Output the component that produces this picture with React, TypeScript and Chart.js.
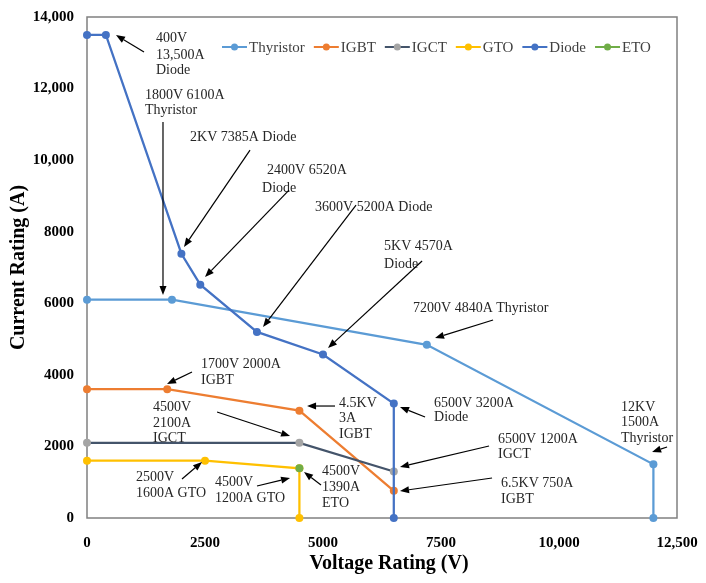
import React, { useEffect, useRef } from "react";
import { Chart, registerables } from "chart.js";

Chart.register(...registerables);

// ---- Data ----
const seriesNames = ["Thyristor", "IGBT", "IGCT", "GTO", "Diode", "ETO"];
const seriesLineColors = ["#5B9BD5", "#ED7D31", "#44546A", "#FFC000", "#4472C4", "#70AD47"];
const seriesPointColors = ["#5B9BD5", "#ED7D31", "#A5A5A5", "#FFC000", "#4472C4", "#70AD47"];

const thyristorV = [0, 1800, 7200, 12000, 12000];
const thyristorA = [6100, 6100, 4840, 1500, 0];
const igbtV = [0, 1700, 4500, 6500];
const igbtA = [3600, 3600, 3000, 760];
const igctV = [0, 4500, 6500];
const igctA = [2100, 2100, 1300];
const gtoV = [0, 2500, 4500, 4500];
const gtoA = [1600, 1600, 1390, 0];
const diodeV = [0, 400, 2000, 2400, 3600, 5000, 6500, 6500];
const diodeA = [13500, 13500, 7385, 6520, 5200, 4570, 3200, 0];
const etoV = [4500];
const etoA = [1390];

const seriesV = [thyristorV, igbtV, igctV, gtoV, diodeV, etoV];
const seriesA = [thyristorA, igbtA, igctA, gtoA, diodeA, etoA];

const xTicks = [0, 2500, 5000, 7500, 10000, 12500];
const yTicks = [0, 2000, 4000, 6000, 8000, 10000, 12000, 14000];

// Annotation texts: [text, voltage (left edge), current (line middle)]
const noteTexts: [string, number, number][] = [
  ["400V", 1462, 13411],
  ["13,500A", 1462, 12935],
  ["Diode", 1462, 12500],
  ["1800V 6100A", 1229, 11818],
  ["Thyristor", 1229, 11380],
  ["2KV 7385A Diode", 2183, 10645],
  ["2400V 6520A", 3814, 9723],
  ["Diode", 3708, 9220],
  ["3600V 5200A Diode", 4831, 8689],
  ["5KV 4570A", 6293, 7600],
  ["Diode", 6293, 7097],
  ["7200V 4840A Thyristor", 6908, 5867],
  ["1700V 2000A", 2416, 4303],
  ["IGBT", 2416, 3856],
  ["4.5KV", 5340, 3213],
  ["3A", 5340, 2794],
  ["IGBT", 5340, 2347],
  ["4500V", 1399, 3101],
  ["2100A", 1399, 2654],
  ["IGCT", 1399, 2235],
  ["2500V", 1038, 1146],
  ["1600A GTO", 1038, 699],
  ["4500V", 2712, 1006],
  ["1200A GTO", 2712, 559],
  ["4500V", 4980, 1313],
  ["1390A", 4980, 866],
  ["ETO", 4980, 419],
  ["6500V 3200A", 7353, 3213],
  ["Diode", 7353, 2822],
  ["6500V 1200A", 8709, 2207],
  ["IGCT", 8709, 1788],
  ["6.5KV 750A", 8773, 978],
  ["IGBT", 8773, 531],
  ["12KV", 11315, 3101],
  ["1500A", 11315, 2682],
  ["Thyristor", 11315, 2235],
];

// Arrows: [fromV, fromA, toV, toA] (head at "to")
const noteArrows: [number, number, number, number][] = [
  [1208, 13020, 614, 13495],
  [1610, 11064, 1610, 6231],
  [3454, 10282, 2055, 7572],
  [4280, 9164, 2500, 6734],
  [5700, 8745, 3729, 5337],
  [7099, 7181, 5107, 4750],
  [8603, 5532, 7374, 5029],
  [2225, 4079, 1695, 3744],
  [5255, 3129, 4662, 3129],
  [2755, 2962, 4302, 2291],
  [2013, 1090, 2437, 1565],
  [3602, 894, 4302, 1118],
  [4958, 922, 4598, 1285],
  [7162, 2822, 6632, 3101],
  [8518, 2012, 6632, 1425],
  [8582, 1118, 6632, 754],
  [12290, 1984, 11972, 1844],
];

const SERIF = '"Liberation Serif", "Times New Roman", serif';

function fmt(v: number) {
  return v >= 10000 ? v.toLocaleString("en-US") : String(v);
}

const overlayPlugin = {
  id: "overlay",
  beforeDatasetsDraw(chart: any) {
    const { ctx, chartArea } = chart;
    const { left, top, right, bottom } = chartArea;
    ctx.save();
    ctx.strokeStyle = "#808080";
    ctx.lineWidth = 1.5;
    ctx.strokeRect(left, top, right - left, bottom - top);
    ctx.restore();
  },
  afterDatasetsDraw(chart: any) {
    const { ctx, chartArea } = chart;
    const xs = chart.scales.x;
    const ys = chart.scales.y;
    ctx.save();
    // annotation texts
    ctx.font = `14px ${SERIF}`;
    ctx.fillStyle = "#262626";
    ctx.textBaseline = "middle";
    ctx.textAlign = "left";
    for (const [t, v, a] of noteTexts) {
      ctx.fillText(t, xs.getPixelForValue(v), ys.getPixelForValue(a));
    }
    // arrows
    ctx.strokeStyle = "#000";
    ctx.fillStyle = "#000";
    ctx.lineWidth = 1.2;
    for (const [v1, a1, v2, a2] of noteArrows) {
      const x1 = xs.getPixelForValue(v1);
      const y1 = ys.getPixelForValue(a1);
      const x2 = xs.getPixelForValue(v2);
      const y2 = ys.getPixelForValue(a2);
      const ang = Math.atan2(y2 - y1, x2 - x1);
      const hl = 9;
      const hw = 3.5;
      const bx = x2 - hl * Math.cos(ang);
      const by = y2 - hl * Math.sin(ang);
      ctx.beginPath();
      ctx.moveTo(x1, y1);
      ctx.lineTo(bx, by);
      ctx.stroke();
      ctx.beginPath();
      ctx.moveTo(x2, y2);
      ctx.lineTo(bx + hw * Math.sin(ang), by - hw * Math.cos(ang));
      ctx.lineTo(bx - hw * Math.sin(ang), by + hw * Math.cos(ang));
      ctx.closePath();
      ctx.fill();
    }
    // legend
    ctx.font = `15px ${SERIF}`;
    ctx.textBaseline = "middle";
    let lx = chartArea.left + 135;
    const ly = chartArea.top + 30;
    chart.data.datasets.forEach((ds: any) => {
      ctx.strokeStyle = ds.borderColor;
      ctx.lineWidth = 2;
      ctx.beginPath();
      ctx.moveTo(lx, ly);
      ctx.lineTo(lx + 25, ly);
      ctx.stroke();
      ctx.fillStyle = ds.pointBackgroundColor;
      ctx.beginPath();
      ctx.arc(lx + 12.5, ly, 3.5, 0, Math.PI * 2);
      ctx.fill();
      ctx.fillStyle = "#404040";
      ctx.fillText(ds.label, lx + 27, ly + 1);
      lx += 27 + ctx.measureText(ds.label).width + 9;
    });
    ctx.restore();
  },
  afterDraw(chart: any) {
    const { ctx, chartArea } = chart;
    ctx.save();
    ctx.fillStyle = "#000";
    ctx.font = `bold 20px ${SERIF}`;
    ctx.textAlign = "center";
    ctx.textBaseline = "middle";
    ctx.fillText("Voltage Rating (V)", (chartArea.left + chartArea.right) / 2 + 7, chartArea.bottom + 46);
    ctx.translate(chartArea.left - 68, (chartArea.top + chartArea.bottom) / 2);
    ctx.rotate(-Math.PI / 2);
    ctx.fillText("Current Rating (A)", 0, 0);
    ctx.restore();
  },
};

export default function App() {
  const ref = useRef<HTMLCanvasElement | null>(null);
  useEffect(() => {
    document.body.style.margin = "0";
    if (!ref.current) return;
    const datasets = seriesNames.map((name, i) => ({
      label: name,
      data: seriesV[i].map((v, j) => ({ x: v, y: seriesA[i][j] })),
      showLine: true,
      borderColor: seriesLineColors[i],
      backgroundColor: seriesPointColors[i],
      pointBackgroundColor: seriesPointColors[i],
      pointBorderColor: seriesPointColors[i],
      pointBorderWidth: 0,
      pointRadius: 4,
      borderWidth: 2.25,
      clip: false as any,
      order: seriesNames.length - i,
    }));
    const chart = new Chart(ref.current, {
      type: "scatter",
      data: { datasets },
      options: {
        animation: false,
        responsive: true,
        maintainAspectRatio: false,
        layout: { padding: { left: 0, top: 17, right: 29, bottom: 0 } },
        plugins: { legend: { display: false }, tooltip: { enabled: false } },
        scales: {
          x: {
            type: "linear",
            min: xTicks[0],
            max: xTicks[xTicks.length - 1],
            afterFit: (s: any) => {
              s.height = 65;
              s.paddingLeft = 0;
              s.paddingRight = 0;
            },
            afterBuildTicks: (s: any) => {
              s.ticks = xTicks.map((v) => ({ value: v }));
            },
            grid: { display: false, drawTicks: false },
            border: { display: false },
            ticks: {
              padding: 16,
              color: "#000",
              font: { family: SERIF, size: 15, weight: "bold" },
              callback: (v: any) => fmt(Number(v)),
            },
          },
          y: {
            type: "linear",
            min: yTicks[0],
            max: yTicks[yTicks.length - 1],
            afterFit: (s: any) => {
              s.width = 87;
              s.paddingTop = 0;
              s.paddingBottom = 0;
            },
            afterBuildTicks: (s: any) => {
              s.ticks = yTicks.map((v) => ({ value: v }));
            },
            grid: { display: false, drawTicks: false },
            border: { display: false },
            ticks: {
              padding: 13,
              color: "#000",
              font: { family: SERIF, size: 15, weight: "bold" },
              callback: (v: any) => fmt(Number(v)),
            },
          },
        },
      },
      plugins: [overlayPlugin],
    } as any);
    return () => chart.destroy();
  }, []);
  return (
    <div style={{ width: 706, height: 583, position: "relative", background: "#fff" }}>
      <canvas ref={ref} />
    </div>
  );
}
